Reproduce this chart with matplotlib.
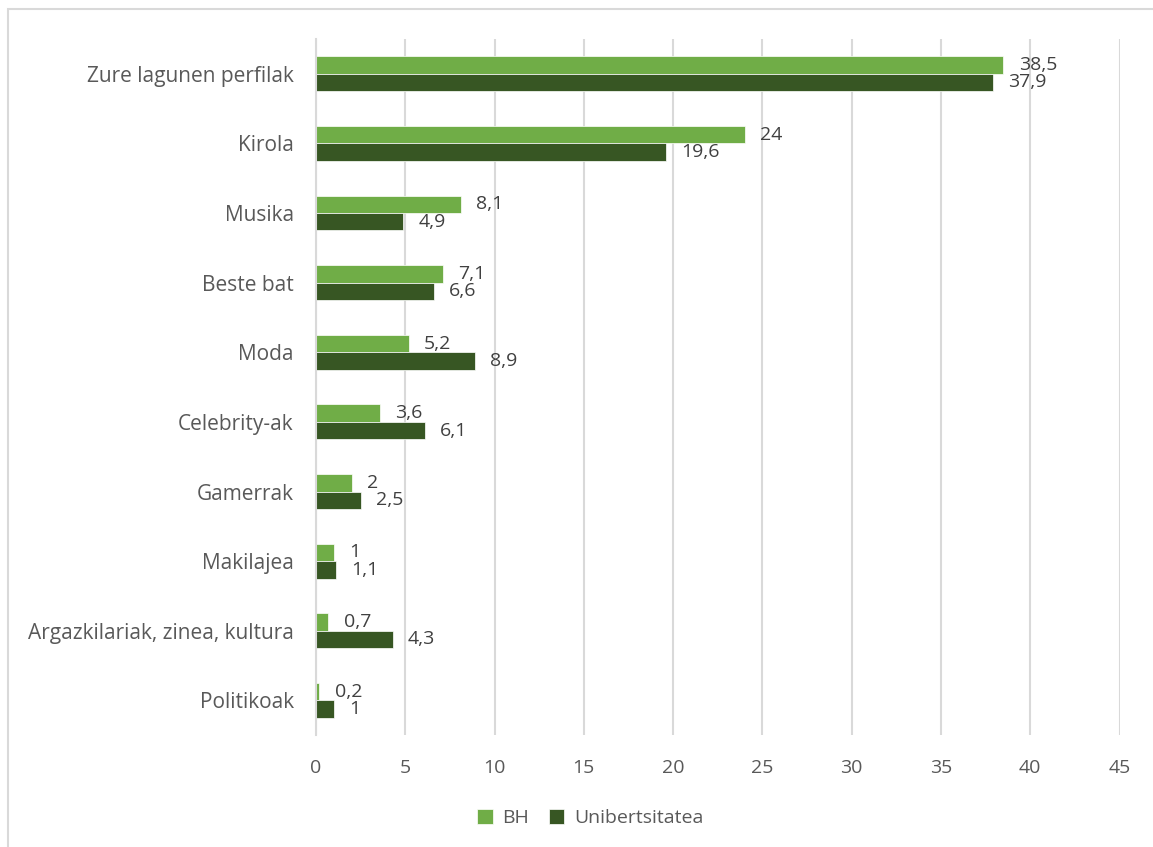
import numpy as np
import matplotlib.pyplot as plt
from matplotlib.patches import Rectangle

# datuak
kategoriak = ["Zure lagunen perfilak", "Kirola", "Musika", "Beste bat", "Moda",
              "Celebrity-ak", "Gamerrak", "Makilajea",
              "Argazkilariak, zinea, kultura", "Politikoak"]
bh = [38.5, 24, 8.1, 7.1, 5.2, 3.6, 2, 1, 0.7, 0.2]
uni = [37.9, 19.6, 4.9, 6.6, 8.9, 6.1, 2.5, 1.1, 4.3, 1]
xticks = [0, 5, 10, 15, 20, 25, 30, 35, 40, 45]

plt.rcParams['font.family'] = ['Open Sans', 'DejaVu Sans']

c_bh = '#70AD47'
c_uni = '#375623'
grisa = '#595959'

fig = plt.figure(figsize=(11.53, 8.47), dpi=100)
ax = fig.add_axes([0.274, 0.132, 0.697, 0.822])

# markoa
fig.patches.append(Rectangle((0.007, -0.1), 1.2, 1.089, transform=fig.transFigure,
                             fill=False, edgecolor='#D9D9D9', linewidth=1.5))

y = np.arange(len(kategoriak))
h = 0.25
ax.barh(y - h / 2, bh, height=h, color=c_bh, edgecolor='white', linewidth=0.5, label='BH')
ax.barh(y + h / 2, uni, height=h, color=c_uni, edgecolor='white', linewidth=0.5,
        label='Unibertsitatea')

def fmt(v):
    return ('%g' % v).replace('.', ',')

for i in range(len(kategoriak)):
    ax.annotate(fmt(bh[i]), (bh[i], y[i] - h / 2), xytext=(11, 0), textcoords='offset points',
                va='center', ha='left', fontsize=14, color='#404040')
    ax.annotate(fmt(uni[i]), (uni[i], y[i] + h / 2), xytext=(11, 0), textcoords='offset points',
                va='center', ha='left', fontsize=14, color='#404040')

ax.set_ylim(9.5, -0.5)
ax.set_xlim(0, 45)
ax.set_yticks(y)
ax.set_yticklabels(kategoriak, fontsize=15, color=grisa)
ax.set_xticks(xticks)
ax.set_xticklabels([str(t) for t in xticks], fontsize=14, color=grisa)
ax.tick_params(axis='both', length=0)
ax.tick_params(axis='x', pad=17)
ax.tick_params(axis='y', pad=16)
ax.grid(axis='x', color='#D9D9D9', linewidth=1.5)
ax.set_axisbelow(True)
for s in ['top', 'right', 'bottom']:
    ax.spines[s].set_visible(False)
ax.spines['left'].set_color('#D9D9D9')
ax.spines['left'].set_linewidth(1.5)

fig.legend(loc='center', bbox_to_anchor=(0.512, 0.034), ncol=2, frameon=False,
           fontsize=14, handlelength=0.8, handleheight=0.8, columnspacing=1.0,
           handletextpad=0.5, labelcolor=grisa)

plt.savefig('out.png', dpi=100)
